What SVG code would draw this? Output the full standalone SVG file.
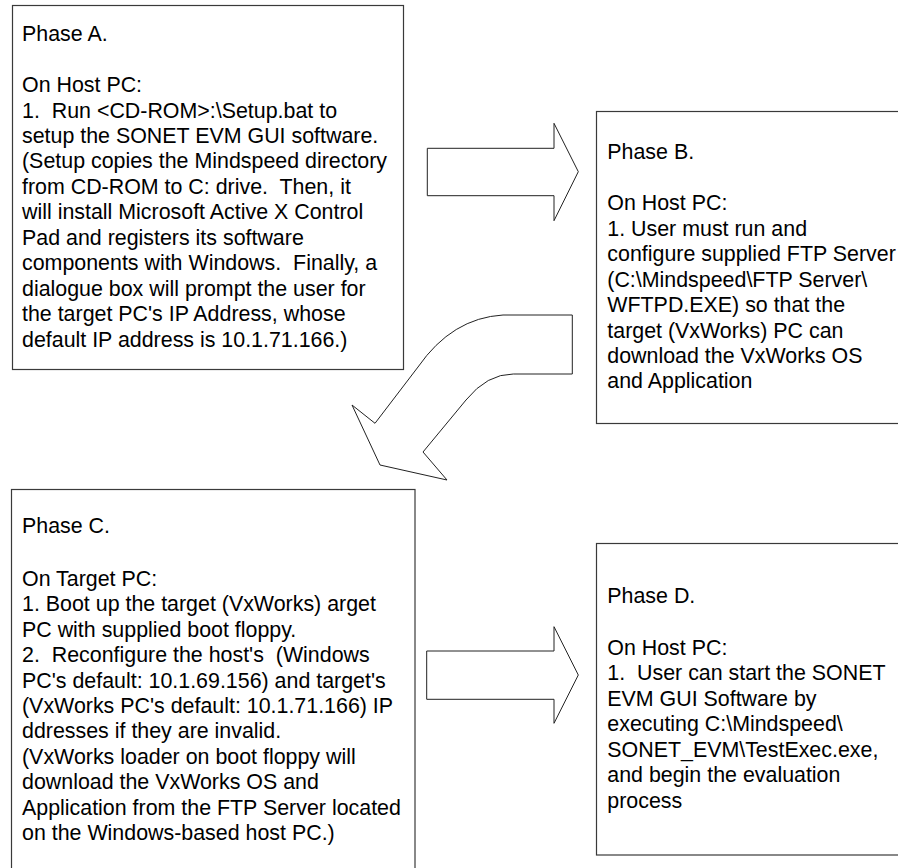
<svg xmlns="http://www.w3.org/2000/svg" width="898" height="868" viewBox="0 0 898 868">
<style>
.box{fill:#fff;stroke:#3a3a3a;stroke-width:1.2}
.arr{fill:#fff;stroke:#222;stroke-width:1}
text{font-family:"Liberation Sans",Arial,sans-serif;font-size:21.4px;fill:#000}
</style>
<rect width="898" height="868" fill="#fff"/>
<g id="connectors">
<path id="arrowAB" class="arr" d="M427.3,148.3 L554,148.3 L554,123.3 L578.3,171.7 L554,220.7 L554,195.7 L427.3,195.7 Z"/>
<path id="arrowBC" class="arr" d="M503,315 L572.3,315 L572.3,374 L513.3,374 Q487,374 466,400 L423,452 L447,480 L380,465 L352,405 L375,423.3 L418,367 Q452,318 503,315 Z"/>
<path id="arrowCD" class="arr" d="M426.7,651 L554,651 L554,626.7 L578.3,675 L554,723.3 L554,699.3 L426.7,699.3 Z"/>
</g>
<g id="phaseA">
<rect class="box" x="12.5" y="5.5" width="391" height="364"/>
<text x="22" y="41" xml:space="preserve"><tspan x="22" y="41">Phase A.</tspan><tspan x="22" y="92">On Host PC:</tspan><tspan x="22" y="117.5">1.  Run &lt;CD-ROM&gt;:\Setup.bat to</tspan><tspan x="22" y="143">setup the SONET EVM GUI software.</tspan><tspan x="22" y="168.4">(Setup copies the Mindspeed directory</tspan><tspan x="22" y="193.9">from CD-ROM to C: drive.  Then, it</tspan><tspan x="22" y="219.3">will install Microsoft Active X Control</tspan><tspan x="22" y="244.8">Pad and registers its software</tspan><tspan x="22" y="270.3">components with Windows.  Finally, a</tspan><tspan x="22" y="295.8">dialogue box will prompt the user for</tspan><tspan x="22" y="321.2">the target PC's IP Address, whose</tspan><tspan x="22" y="346.7">default IP address is 10.1.71.166.)</tspan></text>
</g>
<g id="phaseB">
<rect class="box" x="596.5" y="111.5" width="320" height="312"/>
<text x="607.3" y="159" xml:space="preserve"><tspan x="607.3" y="159">Phase B.</tspan><tspan x="607.3" y="210.3">On Host PC:</tspan><tspan x="607.3" y="235.7">1. User must run and</tspan><tspan x="607.3" y="261.1">configure supplied FTP Server</tspan><tspan x="607.3" y="286.6">(C:\Mindspeed\FTP Server\</tspan><tspan x="607.3" y="312">WFTPD.EXE) so that the</tspan><tspan x="607.3" y="337.5">target (VxWorks) PC can</tspan><tspan x="607.3" y="362.9">download the VxWorks OS</tspan><tspan x="607.3" y="388.3">and Application</tspan></text>
</g>
<g id="phaseC">
<rect class="box" x="11.5" y="489.5" width="403.5" height="420"/>
<text x="22" y="533.3" xml:space="preserve"><tspan x="22" y="533.3">Phase C.</tspan><tspan x="22" y="586">On Target PC:</tspan><tspan x="22" y="611.4">1. Boot up the target (VxWorks) arget</tspan><tspan x="22" y="636.8">PC with supplied boot floppy.</tspan><tspan x="22" y="662.2">2.  Reconfigure the host's  (Windows</tspan><tspan x="22" y="687.6">PC's default: 10.1.69.156) and target's</tspan><tspan x="22" y="713">(VxWorks PC's default: 10.1.71.166) IP</tspan><tspan x="22" y="738.4">ddresses if they are invalid.</tspan><tspan x="22" y="763.8">(VxWorks loader on boot floppy will</tspan><tspan x="22" y="789.2">download the VxWorks OS and</tspan><tspan x="22" y="814.6">Application from the FTP Server located</tspan><tspan x="22" y="840">on the Windows-based host PC.)</tspan></text>
</g>
<g id="phaseD">
<rect class="box" x="596.5" y="543.5" width="320" height="311.5"/>
<text x="607.3" y="603.3" xml:space="preserve"><tspan x="607.3" y="603.3">Phase D.</tspan><tspan x="607.3" y="654.6">On Host PC:</tspan><tspan x="607.3" y="680">1.  User can start the SONET</tspan><tspan x="607.3" y="705.5">EVM GUI Software by</tspan><tspan x="607.3" y="731">executing C:\Mindspeed\</tspan><tspan x="607.3" y="756.5">SONET_EVM\TestExec.exe,</tspan><tspan x="607.3" y="782">and begin the evaluation</tspan><tspan x="607.3" y="807.5">process</tspan></text>
</g>
</svg>
